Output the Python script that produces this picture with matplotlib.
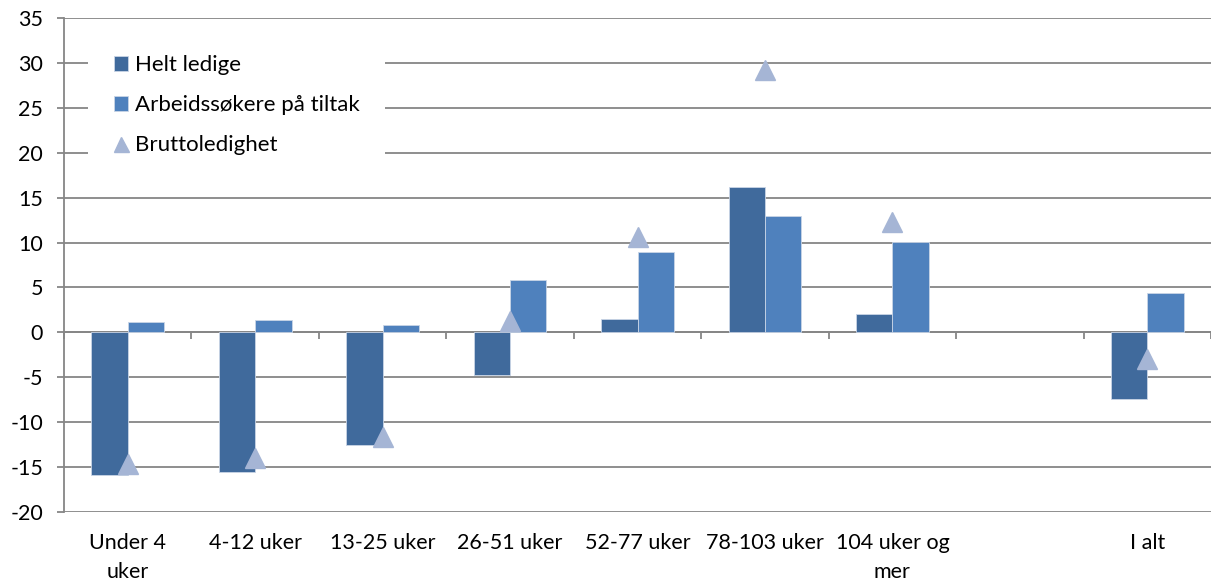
import matplotlib
matplotlib.use('Agg')
import matplotlib.pyplot as plt
import numpy as np

plt.rcParams['font.family'] = ['Lato', 'DejaVu Sans']

# ---- data ----
categories = ['Under 4\nuker', '4-12 uker', '13-25 uker', '26-51 uker', '52-77 uker',
              '78-103 uker', '104 uker og\nmer', '', 'I alt']
helt_ledige = [-15.9, -15.5, -12.5, -4.7, 1.5, 16.2, 2.1, np.nan, -7.4]
tiltak = [1.1, 1.4, 0.8, 5.8, 9.0, 13.0, 10.1, np.nan, 4.4]
brutto = [-14.7, -14.0, -11.7, 1.3, 10.6, 29.2, 12.3, np.nan, -3.0]
yticks = np.arange(-20, 36, 5)

c_dark = '#406A9C'
c_light = '#4F81BD'
c_tri = '#A5B5D5'
c_grid = '#868686'

fig = plt.figure(figsize=(12.11, 5.85), dpi=100)
ax = fig.add_axes([64/1211, 1-512/585, 1-64/1211, (512-18)/585])

x = np.arange(len(categories))
w = 1/3.5
b1 = ax.bar(x - w/2, helt_ledige, w, color=c_dark, edgecolor='#c9d5e6', linewidth=0.6,
            label='Helt ledige', zorder=3)
b2 = ax.bar(x + w/2, tiltak, w, color=c_light, edgecolor='#c9d5e6', linewidth=0.6,
            label='Arbeidssøkere på tiltak', zorder=3)
l1, = ax.plot(x, brutto, linestyle='none', marker='^', markersize=15, color=c_tri,
              markeredgecolor=c_tri, label='Bruttoledighet', zorder=4)

ax.set_xlim(-0.5, len(categories) - 0.5)
ax.set_ylim(-20, 35)
ax.set_yticks(yticks)
ax.set_yticklabels([str(v) for v in yticks], fontsize=15.5)
ax.yaxis.grid(True, color=c_grid, linewidth=1.3)
ax.set_axisbelow(True)

for s in ['top', 'right', 'bottom']:
    ax.spines[s].set_visible(False)
ax.spines['left'].set_color(c_grid)
ax.spines['left'].set_linewidth(1.3)
ax.tick_params(axis='y', direction='out', length=5, width=1.3, color=c_grid, pad=10)

# category labels at the bottom
ax.set_xticks(x)
ax.set_xticklabels(categories, fontsize=15.5, linespacing=1.55)
ax.tick_params(axis='x', length=0, pad=15)

# horizontal axis line at zero with tick marks at category boundaries
zero_loc = (0 - (-20)) / (35 - (-20))
sec = ax.secondary_xaxis(zero_loc)
sec.set_xticks(np.arange(-0.5, len(categories), 1))
sec.set_xticklabels([])
sec.tick_params(direction='out', length=5, width=1.3, color=c_grid)
sec.spines['bottom'].set_color(c_grid)
sec.spines['bottom'].set_linewidth(1.3)

leg = ax.legend([b1, b2, l1], ['Helt ledige', 'Arbeidssøkere på tiltak', 'Bruttoledighet'],
                loc='upper left', bbox_to_anchor=(0.021, 0.4, 0.259, 0.576),
                mode='expand', fontsize=16, frameon=True, fancybox=False,
                borderpad=1.15, labelspacing=0.9, handlelength=0.65,
                handleheight=0.65, handletextpad=0.3, borderaxespad=0,
                markerscale=0.72)
leg.get_frame().set_facecolor('white')
leg.get_frame().set_edgecolor('none')
leg.get_frame().set_alpha(1)

fig.savefig('out.png', dpi=100)
